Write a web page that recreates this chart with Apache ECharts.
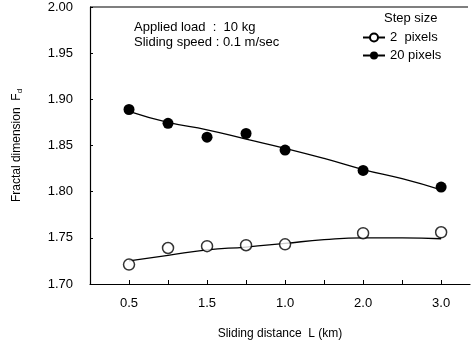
<!DOCTYPE html>
<html>
<head>
<meta charset="utf-8">
<script src="https://cdn.jsdelivr.net/npm/echarts@6/dist/echarts.min.js"></script>
<style>
  html, body { margin: 0; padding: 0; background: #fff; }
  #chart { width: 475px; height: 347px; }
</style>
</head>
<body>
<div id="chart"></div>
<script>
// tick labels on the x axis, one per tick position (blank = unlabelled tick)
const xTickLabels = ['0.5', '', '1.5', '', '1.0', '', '2.0', '', '3.0'];
const yTicks = [1.70, 1.75, 1.80, 1.85, 1.90, 1.95, 2.00];

// measured points: tick position index -> Fd
const pointPos = [0, 1, 2, 3, 4, 6, 8];
const step2 = [1.721, 1.739, 1.741, 1.742, 1.743, 1.755, 1.756];
const step20 = [1.889, 1.874, 1.859, 1.863, 1.845, 1.823, 1.805];

// fitted curves, read at every tick position
const curvePos = [0, 1, 2, 3, 4, 5, 6, 7, 8];
const fit2 = [1.725, 1.731, 1.737, 1.740, 1.744, 1.748, 1.750, 1.750, 1.749];
const fit20 = [1.887, 1.875, 1.867, 1.857, 1.847, 1.836, 1.824, 1.814, 1.802];

const font = 'Liberation Sans, Arial, sans-serif';
const ink = '#000';

const pair = (xs, ys) => xs.map((x, i) => [x, ys[i]]);

const chart = echarts.init(document.getElementById('chart'));
chart.setOption({
    animation: false,
    backgroundColor: '#fff',
    grid: {left: 90, right: 5, top: 7, bottom: 63},
    xAxis: {
        type: 'value',
        min: -1,
        max: 8.74,
        interval: 1,
        axisLine: {onZero: false, lineStyle: {color: ink, width: 1.2}},
        axisTick: {
            inside: true, length: 4, lineStyle: {color: ink},
            customValues: [0, 1, 2, 3, 4, 5, 6, 7, 8]
        },
        splitLine: {show: false},
        axisLabel: {
            color: ink, fontFamily: font, fontSize: 13, margin: 13,
            customValues: [0, 2, 4, 6, 8],
            formatter: v => xTickLabels[v] || ''
        },
        name: 'Sliding distance  L (km)',
        nameLocation: 'middle',
        nameGap: 44,
        nameTextStyle: {color: ink, fontFamily: font, fontSize: 12}
    },
    yAxis: {
        type: 'value',
        min: yTicks[0],
        max: yTicks[yTicks.length - 1],
        interval: 0.05,
        axisLine: {show: true, onZero: false, lineStyle: {color: ink, width: 1.2}},
        axisTick: {show: true, inside: true, length: 3, lineStyle: {color: ink}},
        splitLine: {show: false},
        axisLabel: {color: ink, fontFamily: font, fontSize: 13, margin: 17, formatter: v => v.toFixed(2)},
        name: 'Fractal dimension  F{sub|d}',
        nameLocation: 'middle',
        nameGap: 66,
        nameTextStyle: {
            color: ink, fontFamily: font, fontSize: 12,
            rich: {sub: {fontSize: 8, fontFamily: font, color: ink, padding: [6, 0, 0, 0]}}
        }
    },
    graphic: [
        {type: 'line', shape: {x1: 90, y1: 7, x2: 468, y2: 7}, style: {stroke: ink, lineWidth: 1.2}},
        {type: 'text', left: 134, top: 21, style: {text: 'Applied load  :  10 kg', fill: ink, font: '13px ' + font}},
        {type: 'text', left: 134, top: 36, style: {text: 'Sliding speed : 0.1 m/sec', fill: ink, font: '13px ' + font}},
        {type: 'text', left: 384, top: 12, style: {text: 'Step size', fill: ink, font: '13px ' + font}}
    ],
    legend: {
        left: 357,
        top: 26,
        orient: 'vertical',
        itemWidth: 22,
        itemHeight: 10,
        itemGap: 5,
        textStyle: {color: ink, fontFamily: font, fontSize: 13},
        data: ['2  pixels', '20 pixels']
    },
    series: [
        {
            name: '2  pixels',
            type: 'line',
            smooth: true,
            symbol: 'emptyCircle',
            showSymbol: false,
            color: ink,
            lineStyle: {color: ink, width: 1.3},
            data: pair(curvePos, fit2)
        },
        {
            name: '20 pixels',
            type: 'line',
            smooth: true,
            symbol: 'circle',
            showSymbol: false,
            color: ink,
            lineStyle: {color: ink, width: 1.3},
            data: pair(curvePos, fit20)
        },
        {
            name: '2  pixels',
            type: 'scatter',
            symbol: 'circle',
            symbolSize: 11,
            itemStyle: {color: '#fff', borderColor: ink, borderWidth: 1.5},
            data: pair(pointPos, step2),
            z: 3
        },
        {
            name: '20 pixels',
            type: 'scatter',
            symbol: 'circle',
            symbolSize: 11,
            itemStyle: {color: ink, opacity: 1},
            data: pair(pointPos, step20),
            z: 3
        }
    ]
});
</script>
</body>
</html>
